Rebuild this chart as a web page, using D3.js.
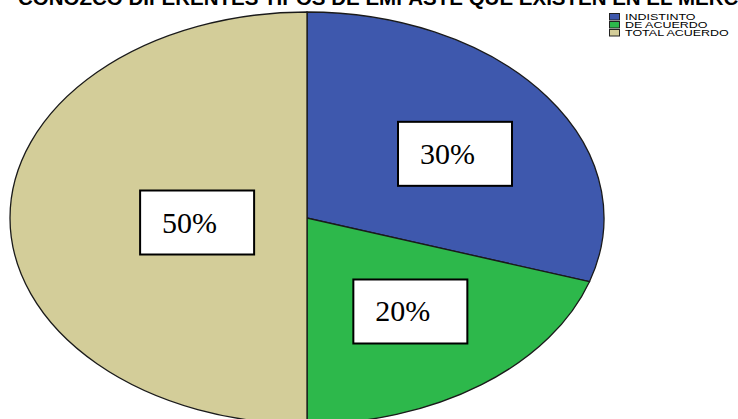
<!DOCTYPE html>
<html><head><meta charset="utf-8">
<script src="https://cdn.jsdelivr.net/npm/d3@7"></script>
<style>html,body{margin:0;padding:0;background:#fff;overflow:hidden}</style>
</head><body>
<svg id="chart" width="738" height="419"></svg>
<script>
const title = "CONOZCO DIFERENTES TIPOS DE EMPASTE QUE EXISTEN EN EL MERCADO";
const categories = ["INDISTINTO", "DE ACUERDO", "TOTAL ACUERDO"];
const values = [30, 20, 50];
const labels = ["30%", "20%", "50%"];
const colors = ["#3e58ad", "#2db84b", "#d3cd99"];

const W = 738, H = 419;
const cx = 307, cy = 218, rx = 297, ry = 206;
// label placement: fraction of radius along slice mid-angle (x, y) and a small y shift
const labelFx = [0.616, 0.592, 0.37];
const labelFy = [0.53, 0.561, 0.5];
const labelShiftY = [0, 0, 4.5];
const boxW = 114, boxH = 64;

const svg = d3.select("#chart");
svg.append("rect").attr("width", W).attr("height", H).attr("fill", "#fff");

const pie = d3.pie().sort(null).value(d => d)(values);
const arc = d3.arc().innerRadius(0).outerRadius(rx);

const g = svg.append("g").attr("transform", `translate(${cx},${cy}) scale(1,${ry/rx})`);
g.selectAll("path").data(pie).join("path")
  .attr("d", arc)
  .attr("fill", (d, i) => colors[i])
  .attr("stroke", "#1a1a1a")
  .attr("stroke-width", 1.3)
  .attr("vector-effect", "non-scaling-stroke");

// labels
const lab = svg.append("g");
pie.forEach((d, i) => {
  const a = (d.startAngle + d.endAngle) / 2;
  const x = cx + Math.sin(a) * rx * labelFx[i];
  const y = cy - Math.cos(a) * ry * labelFy[i] + labelShiftY[i];
  lab.append("rect")
    .attr("x", x - boxW / 2).attr("y", y - boxH / 2)
    .attr("width", boxW).attr("height", boxH)
    .attr("fill", "#fff").attr("stroke", "#000").attr("stroke-width", 2);
  lab.append("text")
    .attr("x", x - boxW / 2 + 22).attr("y", y + 10)
    .attr("font-family", "'Liberation Serif', 'Times New Roman', serif")
    .attr("font-size", 30)
    .attr("fill", "#000")
    .text(labels[i]);
});

// title
svg.append("text")
  .attr("x", 18).attr("y", 5)
  .attr("font-family", "'Liberation Sans', Arial, sans-serif")
  .attr("font-weight", "bold")
  .attr("font-size", 20.5)
  .attr("fill", "#000")
  .text(title);

// legend
const leg = svg.append("g").attr("transform", "translate(609,13)");
categories.forEach((c, i) => {
  leg.append("rect").attr("x", 0.5).attr("y", i * 8 + 0.5)
    .attr("width", 10).attr("height", 6.5)
    .attr("fill", colors[i]).attr("stroke", "#222").attr("stroke-width", 1);
  leg.append("text")
    .attr("transform", `translate(16,${i * 8 + 7}) scale(1.42,1)`)
    .attr("font-family", "'Liberation Sans', Arial, sans-serif")
    .attr("font-size", 8.8)
    .attr("fill", "#000")
    .text(c);
});
</script>
</body></html>
